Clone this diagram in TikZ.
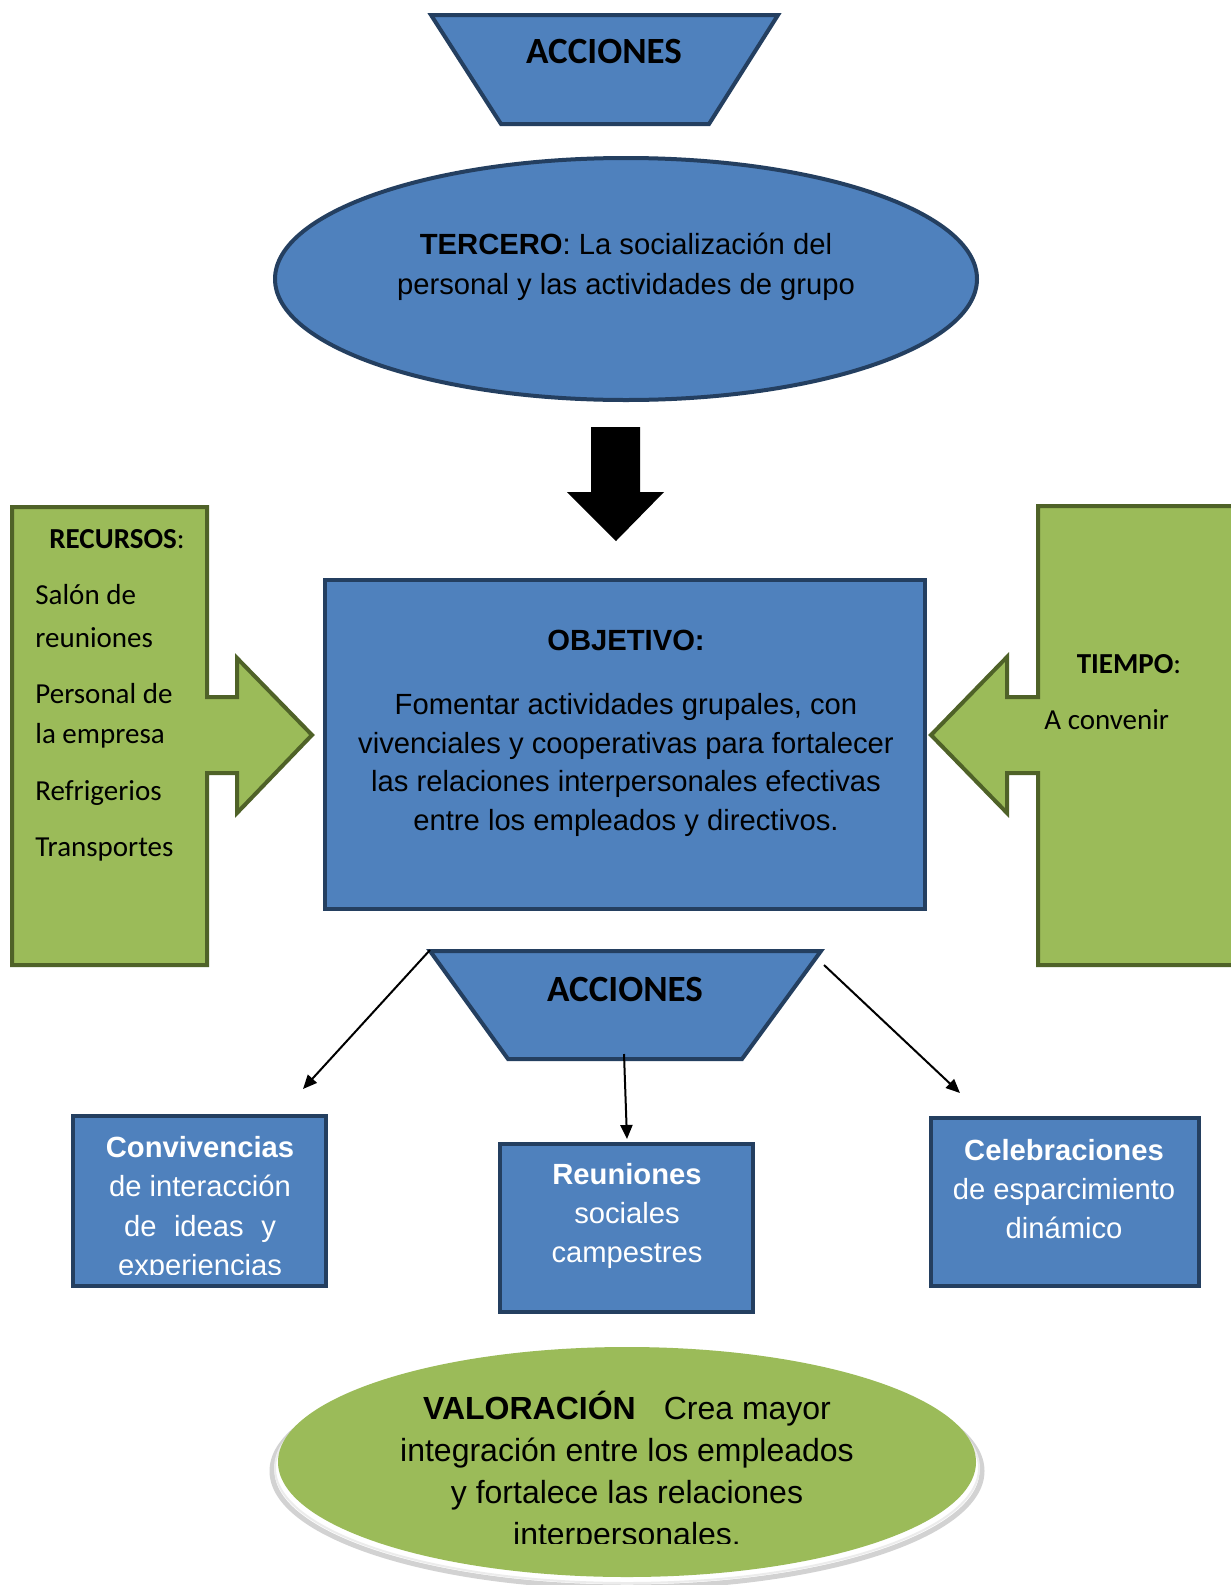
\documentclass[tikz,border=0pt]{standalone}
\usepackage{fontspec}
\setmainfont{Liberation Sans}
\newfontfamily\calfont{Carlito}
\usetikzlibrary{arrows.meta,fit}
\definecolor{bfill}{HTML}{4F81BD}
\definecolor{bline}{HTML}{243F60}
\definecolor{gfill}{HTML}{9BBB59}
\definecolor{gline}{HTML}{4F6228}
\begin{document}
\begin{tikzpicture}[x=0.5pt,y=-0.5pt,
  blueshape/.style={fill=bfill, draw=bline, line width=2pt},
  greenshape/.style={fill=gfill, draw=gline, line width=2pt},
  lbl/.style={inner sep=0pt, align=center, font=\fontsize{14.6}{19.4}\selectfont},
  wlbl/.style={lbl, text=white},
  cal/.style={inner sep=0pt, font=\calfont\fontsize{14.5}{17}\selectfont},
  calhead/.style={inner sep=0pt, font=\calfont\bfseries\fontsize{18.5}{22}\selectfont},
  link/.style={line width=1pt, -{Triangle[length=7pt,width=6pt]}},
]
\clip (0,0) rectangle (1231,1585);
\fill[white] (0,0) rectangle (1231,1585);

% top header
\path[blueshape] (431,15) -- (778,15) -- (709,124) -- (501,124) -- cycle;
\node[calhead] (acc1) at (604,51) {ACCIONES};

% third stage ellipse
\path[blueshape] (626,279) ellipse [x radius=175.5pt, y radius=60.5pt];
\node[lbl, font=\fontsize{14.6}{20}\selectfont] (tercero) at (626,267)
  {\textbf{TERCERO}: La socialización del\\personal y las actividades de grupo};

% big down arrow
\fill[black] (591,427) -- (640,427) -- (640,492) -- (664,492) -- (616,541)
  -- (567,492) -- (591,492) -- cycle;

% side block arrows
\path[greenshape] (12,507) -- (207,507) -- (207,697) -- (237,697) -- (237,658)
  -- (312,735) -- (237,813) -- (237,773) -- (207,773) -- (207,965) -- (12,965) -- cycle;
\path[greenshape] (1038,506) -- (1260,506) -- (1260,965) -- (1038,965) -- (1038,773)
  -- (1007,773) -- (1007,813) -- (931,735) -- (1007,657) -- (1007,697) -- (1038,697) -- cycle;

\node[cal, anchor=west] (recT) at (49,539) {\bfseries RECURSOS\mdseries:};
\node[cal, anchor=west] (rec1) at (35,595) {Salón de};
\node[cal, anchor=west] (rec2) at (35,638) {reuniones};
\node[cal, anchor=west] (rec3) at (35,694) {Personal de};
\node[cal, anchor=west] (rec4) at (35,736) {la empresa};
\node[cal, anchor=west] (rec5) at (35,793) {Refrigerios};
\node[cal, anchor=west] (rec6) at (35,850) {Transportes};

\node[cal] (tiemT) at (1129,664) {\bfseries TIEMPO\mdseries:};
\node[cal, anchor=west] (tiem1) at (1044,720) {A convenir};

% objective box
\node[blueshape, inner sep=0pt, fit={(325,580) (925,909)}] (obj) {};
\node[lbl] (objT) at (626,640) {\textbf{OBJETIVO:}};
\node[lbl] (objB) at (626,765) {Fomentar actividades grupales, con\\vivenciales y cooperativas para fortalecer\\las relaciones interpersonales efectivas\\entre los empleados y directivos.};

% lower header
\path[blueshape] (430,951) -- (821,951) -- (742,1059) -- (508,1059) -- cycle;
\node[calhead] (acc2) at (625,989) {ACCIONES};
\coordinate (accL) at (430,950);
\coordinate (accM) at (624,1054);
\coordinate (accR) at (824,965);

% action boxes
\node[blueshape, line width=2.4pt, inner sep=0pt, fit={(73,1116) (326,1286)}] (convB) {};
\node[blueshape, line width=2.4pt, inner sep=0pt, fit={(500,1144) (753,1312)}] (reunB) {};
\node[blueshape, line width=2.4pt, inner sep=0pt, fit={(931,1118) (1199,1286)}] (celeB) {};

\begin{scope}
\clip (0,0) rectangle (1231,1274);
\node[wlbl, font=\fontsize{14.6}{19.6}\selectfont] (convT) at (200,1209) {\textbf{Convivencias}\\de interacción\\de\hspace{4.7pt} ideas\hspace{4.7pt} y\\experiencias};
\end{scope}
\node[wlbl, font=\fontsize{14.6}{19.6}\selectfont] (reunT) at (627,1216) {\textbf{Reuniones}\\sociales\\campestres};
\node[wlbl, font=\fontsize{14.6}{19.6}\selectfont] (celeT) at (1064,1189) {\textbf{Celebraciones}\\de esparcimiento\\dinámico};

\coordinate (tipL) at (303,1089);
\coordinate (tipM) at (627,1139);
\coordinate (tipR) at (960,1093);
\draw[link] (accL) -- (tipL);
\draw[link] (accM) -- (tipM);
\draw[link] (accR) -- (tipR);

% evaluation ellipse with its soft base
\draw[gray!35, line width=2.5pt, fill=white] (627,1471) ellipse [x radius=177.5pt, y radius=58pt];
\draw[gray!15, line width=1pt] (627,1468) ellipse [x radius=176pt, y radius=57.5pt];
\fill[gfill] (627,1462) ellipse [x radius=174.5pt, y radius=57.5pt];
\begin{scope}
\clip (0,0) rectangle (1231,1543);
\node[lbl, font=\fontsize{16}{21}\selectfont] (valT) at (627,1472)
  {\textbf{VALORACIÓN}\hspace{14pt}Crea mayor\\integración entre los empleados\\y fortalece las relaciones\\interpersonales.};
\end{scope}
\end{tikzpicture}
\end{document}
